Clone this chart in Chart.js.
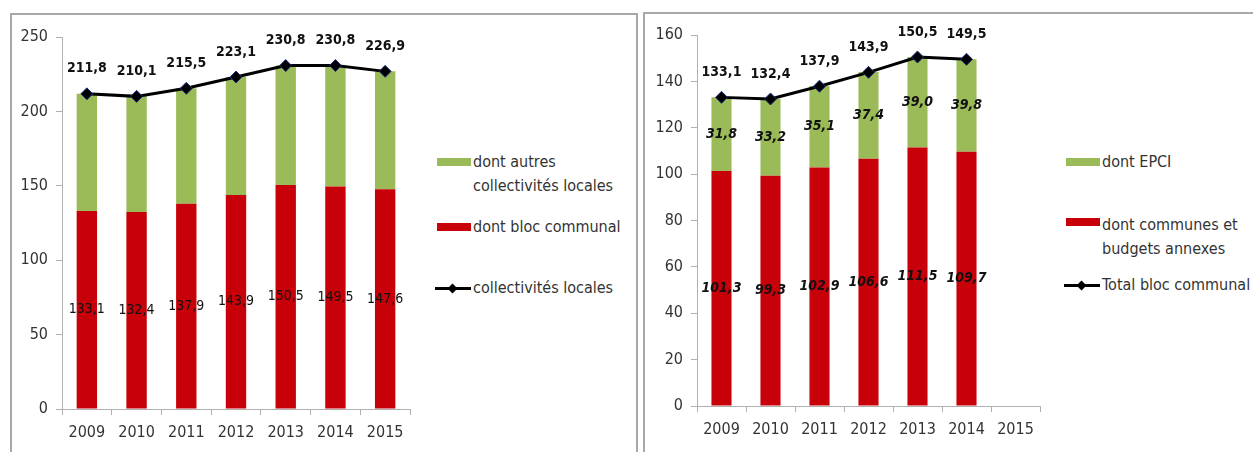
<!DOCTYPE html>
<html>
<head>
<meta charset="utf-8">
<script src="https://cdn.jsdelivr.net/npm/chart.js@4"></script>
<style>
  body { margin: 0; background: #fff; width: 1253px; height: 452px; overflow: hidden; position: relative;
         font-family: "Liberation Sans Narrow", "DejaVu Sans Condensed", "Liberation Sans", sans-serif; color: #3a3a3a; }
  .panel { position: absolute; border: 2px solid #a8a8a8; background: #fff; }
  .box { position: absolute; }
  .leg { position: absolute; font-size: 16px; line-height: 24px; color: #333; white-space: nowrap; }
  .sw { position: absolute; width: 34px; height: 8px; }
  .ln { position: absolute; width: 36px; height: 3px; background: #000; }
  .dm { position: absolute; width: 7px; height: 7px; background: #000; transform: rotate(45deg); left: 14px; top: -2px; }
</style>
</head>
<body>
<div class="panel" style="left:10px; top:13px; width:624px; height:460px;"></div>
<div class="panel" style="left:643px; top:12px; width:620px; height:460px;"></div>

<div class="box" style="left:12px; top:14px; width:410px; height:438px;"><canvas id="gauche"></canvas></div>
<div class="box" style="left:645px; top:14px; width:405px; height:438px;"><canvas id="droite"></canvas></div>

<!-- légende gauche -->
<div class="sw" style="left:437px; top:158px; background:#9bbb59;"></div>
<div class="leg" style="left:473px; top:150px;">dont autres<br>collectivités locales</div>
<div class="sw" style="left:437px; top:223px; background:#c8000a;"></div>
<div class="leg" style="left:473px; top:215px;">dont bloc communal</div>
<div class="ln" style="left:435px; top:287px;"><div class="dm"></div></div>
<div class="leg" style="left:473px; top:276px;">collectivités locales</div>

<!-- légende droite -->
<div class="sw" style="left:1066px; top:158px; background:#9bbb59;"></div>
<div class="leg" style="left:1102px; top:150px;">dont EPCI</div>
<div class="sw" style="left:1066px; top:218px; background:#c8000a;"></div>
<div class="leg" style="left:1102px; top:213px;">dont communes et<br>budgets annexes</div>
<div class="ln" style="left:1064px; top:284px;"><div class="dm"></div></div>
<div class="leg" style="left:1102px; top:273px;">Total bloc communal</div>

<script>
const annees = ['2009', '2010', '2011', '2012', '2013', '2014', '2015'];

// graphique de gauche : collectivités locales
const blocCommunal = [133.1, 132.4, 137.9, 143.9, 150.5, 149.5, 147.6];
const autresCollectivites = [78.7, 77.7, 77.6, 79.2, 80.3, 81.3, 79.3];
const totalCollectivites = [211.8, 210.1, 215.5, 223.1, 230.8, 230.8, 226.9];

// graphique de droite : bloc communal
const communesBudgets = [101.3, 99.3, 102.9, 106.6, 111.5, 109.7, null];
const epci = [31.8, 33.2, 35.1, 37.4, 39.0, 39.8, null];
const totalBloc = [133.1, 132.4, 137.9, 143.9, 150.5, 149.5, null];

const POLICE = '"Liberation Sans Narrow", "DejaVu Sans Condensed", "Liberation Sans", sans-serif';
const VERT = '#9bbb59';
const ROUGE = '#c8000a';

const fmt = v => v.toFixed(1).replace('.', ',');

const etiquettes = {
    id: 'etiquettes',
    afterDatasetsDraw(chart) {
        const ctx = chart.ctx;
        chart.data.datasets.forEach((ds, i) => {
            const lab = ds.etiquette;
            if (!lab) return;
            const meta = chart.getDatasetMeta(i);
            meta.data.forEach((el, j) => {
                const v = ds.data[j];
                if (v == null) return;
                let y;
                if (meta.type === 'bar') y = (el.y + el.base) / 2;
                else y = el.y - lab.decalage;
                ctx.save();
                ctx.font = lab.font;
                ctx.fillStyle = lab.couleur;
                ctx.textAlign = 'center';
                ctx.textBaseline = 'middle';
                ctx.fillText(fmt(v), el.x, y);
                ctx.restore();
            });
        });
    }
};

function graphique(id, rouge, vert, total, yMax, yPas, etiqRouge, etiqVert, pad) {
    const ctx = document.getElementById(id).getContext('2d');
    return new Chart(ctx, {
        type: 'bar',
        data: {
            labels: annees,
            datasets: [
                {
                    type: 'line',
                    data: total,
                    stack: 'total',
                    order: 0,
                    borderColor: '#000',
                    borderWidth: 3,
                    pointStyle: 'rectRot',
                    pointRadius: 6,
                    pointBackgroundColor: '#000',
                    pointBorderColor: '#1f2f80',
                    pointBorderWidth: 1,
                    tension: 0,
                    etiquette: { font: 'bold 14px ' + POLICE, couleur: '#111', decalage: 25 }
                },
                {
                    data: rouge,
                    stack: 'barres',
                    order: 1,
                    backgroundColor: ROUGE,
                    barPercentage: 0.41,
                    categoryPercentage: 1,
                    etiquette: etiqRouge
                },
                {
                    data: vert,
                    stack: 'barres',
                    order: 1,
                    backgroundColor: VERT,
                    barPercentage: 0.41,
                    categoryPercentage: 1,
                    etiquette: etiqVert
                }
            ]
        },
        options: {
            responsive: true,
            maintainAspectRatio: false,
            animation: false,
            layout: { padding: { top: pad.top, right: pad.right, left: 0, bottom: 0 } },
            plugins: { legend: { display: false }, tooltip: { enabled: false } },
            scales: {
                x: {
                    stacked: true,
                    grid: { display: true, drawOnChartArea: false, tickLength: 6, color: '#b0b0b0' },
                    border: { color: '#b0b0b0', width: 1 },
                    ticks: { color: '#333', font: { family: POLICE, size: 16 }, padding: 8 },
                    afterFit: s => { s.height = pad.bas; }
                },
                y: {
                    stacked: true,
                    min: 0,
                    max: yMax,
                    grid: { display: true, drawOnChartArea: false, tickLength: 6, color: '#b0b0b0' },
                    border: { color: '#b0b0b0', width: 1 },
                    ticks: { stepSize: yPas, color: '#333', font: { family: POLICE, size: 16 }, padding: 8 },
                    afterFit: s => { s.width = pad.gauche; }
                }
            }
        },
        plugins: [etiquettes]
    });
}

graphique('gauche', blocCommunal, autresCollectivites, totalCollectivites, 250, 50,
    { font: '14px ' + POLICE, couleur: '#111' },
    null,
    { top: 23, right: 12, bas: 43, gauche: 50 });

graphique('droite', communesBudgets, epci, totalBloc, 160, 20,
    { font: 'italic bold 14px ' + POLICE, couleur: '#111' },
    { font: 'italic bold 14px ' + POLICE, couleur: '#111' },
    { top: 21, right: 10, bas: 46, gauche: 52 });
</script>
</body>
</html>
